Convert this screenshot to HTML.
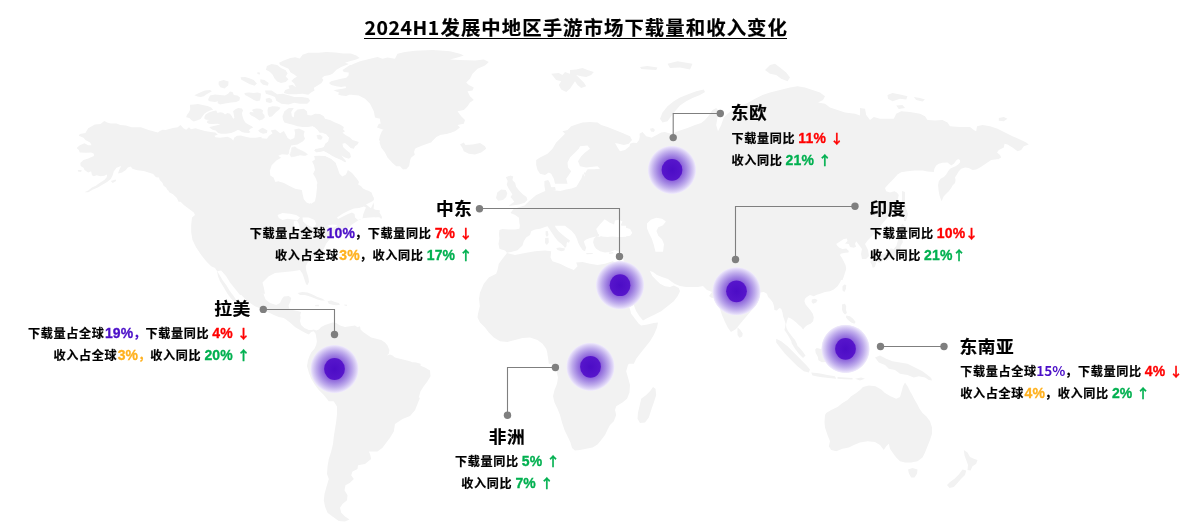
<!DOCTYPE html>
<html lang="zh-CN"><head><meta charset="utf-8"><title>2024H1发展中地区手游市场下载量和收入变化</title>
<style>
*{margin:0;padding:0;box-sizing:border-box}
html,body{width:1200px;height:531px;background:#fff;overflow:hidden}
body{position:relative;font-family:"Liberation Sans","Noto Sans CJK SC",sans-serif;font-weight:700;color:#000}
svg.bg{position:absolute;left:0;top:0;width:1200px;height:531px}
.t{position:absolute;white-space:nowrap;line-height:1}
.title{font-family:"Noto Sans CJK SC",sans-serif;font-size:19.4px;left:364.4px;top:14.6px;line-height:24px;height:24.3px;border-bottom:1.3px solid #000}
.title span{display:inline-block;transform:scaleY(.97);transform-origin:50% 80%}
.title .tl{letter-spacing:.6px;margin-right:.6px}
.title{-webkit-text-stroke:.2px #000}
.title .tc{letter-spacing:1.05px;margin-right:-1.05px}
.rn{font-size:17.7px;line-height:20px;letter-spacing:.5px;-webkit-text-stroke:.2px #000}
.rn.r{margin-right:-.5px}
.tx{font-size:12.1px;line-height:16px}
.tx{word-spacing:-.7px}
.tx .z{letter-spacing:.65px;margin-right:-.65px;-webkit-text-stroke:.22px currentColor}
.z{display:inline-block;transform:scaleY(1);line-height:0}
.rn .z{transform:scaleY(.96)}
.r{text-align:right}
.c{text-align:center}
.red{color:#ff0000}.grn{color:#00b050}.pur{color:#4b0fc8}.org{color:#ffb11f}
.n{font-size:14px;letter-spacing:.15px;display:inline-block;transform:scaleY(1.08);line-height:0;margin-left:1.1px;-webkit-text-stroke:.3px currentColor}
.ar{font-family:"Noto Sans CJK SC",sans-serif;font-size:13.6px;letter-spacing:0;position:relative;top:.3px;margin-left:.6px;line-height:0;display:inline-block;transform:scaleY(.89)}
.ar.dn{top:-.5px}
.k{font-family:"Noto Sans CJK SC",sans-serif;display:inline-block;font-size:13.6px;line-height:0}
</style></head>
<body>
<svg class="bg" width="1200" height="531" viewBox="0 0 1200 531">
<defs>
<radialGradient id="glow" cx="50%" cy="50%" r="50%">
<stop offset="0" stop-color="#5a1ecb"/>
<stop offset="0.42" stop-color="#8a60da"/>
<stop offset="0.6" stop-color="#a589e3"/>
<stop offset="0.75" stop-color="#bfacec"/>
<stop offset="0.9" stop-color="#ddd3f6"/>
<stop offset="0.97" stop-color="#eee9fb"/>
<stop offset="1" stop-color="#f4f0fc" stop-opacity="0"/>
</radialGradient>
<radialGradient id="core" cx="50%" cy="50%" r="50%">
<stop offset="0" stop-color="#4c0cc6"/>
<stop offset="1" stop-color="#5716cb"/>
</radialGradient>
</defs>
<g id="map" fill="#f2f2f2"><path d="M79.8 133.9L85.4 133L88.2 128.2L94.8 124.5L100.5 124.1L104.3 121.1L107.1 122.6L110.8 123.5L116.5 123.5L120.3 125L125.9 125.4L131.6 127.3L141 127.3L148.5 130.1L157.9 132.4L159.8 131.1L162.6 129.8L165.5 130.1L173 127.9L177.7 127.3L180.5 125L183.4 128.2L186.2 129.8L189 127.3L190.9 129.2L195.6 128.2L200.3 129.8L205 131.1L210.7 132L215.4 132.4L217.8 134.8L214.4 135.8L215.4 137.3L220.1 137.7L227.6 136.7L231.4 138.6L233.3 140.5L234.2 137.7L237 135.8L240.8 135.4L245.5 136.7L250.2 137.7L255.9 137.7L261.5 136.7L261.5 201.7L178.6 201.7L176.8 197.9L173 194.2L169.2 192.3L167.3 188.5L163.6 185.7L162.6 182.9L159.8 180L158.9 177.6L156 177.2L153.2 174L148.5 172.5L143.8 171L137.2 170.2L132.5 168.7L130.6 166.5L127.8 167.4L125.9 170.1L122.1 172.5L118 173.4L119.3 169.7L121.2 165.9L116.5 167.8L113.7 171.6L112.7 175.3L110.8 179.1L107.1 181.9L102.4 184.7L97.7 187.6L93 189.5L88.2 192.3L84.5 192.3L88.2 190.4L92 187.6L95.8 185.7L99.5 182.9L104.3 180L106.7 177.2L107.1 174.4L104.3 175.7L100.5 176.3L96.7 175.3L93.9 176.3L92 175.3L91.1 171.2L88.2 172.5L84.5 170.1L83.5 167.8L80.7 165.9L80.3 163.1L83.5 159.9L88.2 158.4L93.9 156.1L93.9 153.7L91.1 152.4L86.4 152.7L79.8 152.4L78.8 149.9L76.6 148L79.8 145.2L84.5 143.3L88.2 145.2L91.6 145.2L90.1 142.4L85.4 139.9L83.5 137.7L78.8 135.8ZM77.9 170.1L81.7 170.1L81.1 171.9L77.9 171.6ZM110.8 181L115.6 179.5L116.1 181L112.7 182.9ZM218.8 81.6L223.5 80.1L228.6 81.6L228.2 85.4L224.5 88.6L220.3 87.3L218.5 84.3ZM240.5 77.3L245.2 76.9L249.3 78.2L253.7 80.1L256.9 83.5L254.6 85.8L249.3 83.9L244.8 81.6L241.4 79.8ZM260.3 79.2L264.4 80.1L268.7 83L267.8 85.8L263.1 84.8L260.3 82ZM257.4 72.2L259.9 72.6L259.9 74.5L257.4 74.1ZM265 90.5L271.6 90.5L277.2 94.3L282.9 93.7L288.5 95.2L294.2 97.1L301.7 97.1L308.3 98L310.2 100.8L307.3 103.7L299.8 103.7L294.2 102.7L288.5 104.6L281.4 103.7L276.3 100.8L275 97.1L270.6 95.2L265.9 93.7ZM266.9 66L271.6 64.1L277.2 65.1L281 67.9L285.7 70.3L287.6 73.5L285.7 76.4L288.5 79.2L285.7 82L281 83L277.2 81.6L274.4 78.2L272.5 74.5L269.7 71.7L265.9 69.8ZM279.1 62.8L283.8 60.4L290.4 57.9L295.1 57.2L299.8 58.5L302.6 54.7L308.3 52.8L318.6 52.8L326.2 51.9L335.6 52.6L343.1 53.4L350.7 53.4L356.3 55.6L359.7 57.9L355.4 59.8L349.7 61.3L345 62.8L348.8 64.1L341.2 66.9L336.5 69.8L332.8 73.5L329.9 75L324.3 76L322 77.9L323.4 80.1L321.5 83L317.7 85.4L313.9 87.7L314.5 90.5L311.1 92.4L308.3 94.8L302.6 93.7L296 94.3L288.5 94.3L283.8 92.9L285.1 89.9L289.5 88.6L288.5 85.8L292.3 84.8L296 87.3L294.2 83.5L291.3 81.1L294.2 78.2L297 76.7L294.2 74.5L290.4 72.2L288.5 68.8L284.7 66.9L280 65.1ZM238.7 137.9L259.4 137.9L266.9 138.8L268.8 136L272.6 133.2L270.7 130.4L275.4 129.4L280.1 133.2L283.9 130.9L287.7 137.9L290.5 139.8L294.3 137.9L295.2 133.2L294.3 129.4L299 128.5L304.6 131.3L303.7 135.1L305.6 138.8L308.4 141.7L311.2 154.3L314 155.8L319.7 155.4L325.3 155.8L331 158.6L335.7 162.4L337.6 168L339.5 173.7L342.3 176.5L346 174.6L347.9 169.9L352.1 172.9L354.5 175.9L357 178.9L359 182L358.1 184.4L360.9 185.9L363 188.5L366 190.1L369 191L371.5 192.5L372.4 195L373.9 198L373.9 200L372 201.5L369 203.1L366 204.6L363 206.4L357.9 206.8L352.1 206.8L347 207L344.5 208.5L341.9 211L339.1 213.4L338.5 221.7L238.7 221.7ZM451.5 119.1L451.5 132.8L442.1 134.1L436.4 136.9L430.8 142.6L422.3 145.4L415.7 148.2L413.8 151.1L414.8 154.8L411 157.7L410.1 160.5L409.1 166.1L406.3 169.3L402.5 168L399.7 165.2L396 166.1L392.2 162.4L388.4 157.7L385.6 153L383.7 148.2L380.9 143.5L379 139.8L379.9 136L381.8 131.3L385.6 127.5L380.9 125.6L379.9 119.1ZM374 205.5L373.5 208.5L375 209.8L378 210L380 210.5L379.5 212.5L381 215L382 217L381.5 219L380 218L378 216.5L376 217.5L373 217L370 216.2L367 216.8L365 216L366.5 213L369 211L371 208L372.5 205L373.5 202.5ZM352 208.5L355 209.5L357 210.8L355.5 210.5L353 209.5ZM348.8 66.2L353.8 63.8L360 61.2L370 58.8L377.5 57L382.5 58.8L387.5 57.5L395 58.8L397.5 53.8L405 52L415 50.8L432.5 50L450 51.2L460 53.8L463.8 55.5L457.5 57.5L450 59.5L460 60L475 60.5L483.8 59.5L488.8 62L485 65.5L477.5 68.8L472.5 73.8L470 78.8L466.2 82.5L468.8 85L473.8 87.5L472.5 90.5L467.5 91.2L470 96.2L473.8 100L470 102.5L467.5 106.2L463.8 110L457.5 111.2L461.2 116.2L465 120L463.8 123.8L457.5 125L460 127.5L455 131.2L447.5 133.8L440 135L435 137.5L431.2 142.5L422.5 144.5L415.5 148L413.8 152.5L410 157.5L408.8 163.8L407 168.8L403 169.5L400 166.2L396.2 166.2L392 162.5L387.5 157.5L385 152.5L381.2 147.5L379.5 142.5L381.2 136.2L386.2 132.5L387.5 128L382.5 129.5L377 127.5L378.8 123.8L385 123.8L380 118.8L375 117.5L373.8 111.2L370 103.8L365 98.8L358.8 95.5L348.8 94.5ZM460 144.5L463.8 142.5L465.5 145L472.5 144.5L480 143L485 146.2L486.2 148.8L481.2 152.5L475 154.5L468.8 153.8L463.8 151.2L462.5 148ZM551.2 73.8L558.8 73L562.5 75L565 72L570 73.8L570 70L576.2 69.5L582.5 68L587.5 70L593.8 72L591.2 75L586.2 77L581.2 76.2L576.2 75L580 78.8L583.8 82.5L586.2 86.2L581.2 88L577.5 85L575 81.2L572.5 85L570 88.8L566.2 92L561.2 89.5L558.8 85L561.2 81.2L556.2 80L553.8 77ZM536.2 160L540 157.5L547.5 153.8L552.5 148.8L556.2 142.5L561.2 137.5L565 133.8L562.5 131.2L567.5 130L571.2 126.2L576.2 124.5L582.5 122.5L590 122L597.5 122.5L601.2 125L607.5 127L615 130L622.5 133L630 136.2L632 140L628.8 143.8L623.8 145L618.8 143.8L615 143L617.5 147.5L620 151.2L625 150L631.2 145L636.2 143.8L640 138.8L639.5 133.8L642.5 132L646.2 136.2L651.2 137.5L651.2 183.8L582.5 183.8L581.2 180L585 176.2L583.8 172.5L590 171.2L600 168.8L597.5 166.2L586.2 167.5L580 166.2L578 161.2L581.2 156.2L585 152.5L590 148.8L587.5 145.5L580 146.2L578.8 148.8L573.8 153.8L570 157.5L567.5 162.5L568 167.5L571.2 171.2L568.8 175L566.2 178.8L567.5 183.8L555 183.8L553.8 178.8L551.2 173.8L548.8 172.5L545 175L540 173.8L537.5 170L536.2 165ZM350 178.8L355 195L365 203.8L370 207.5L373.8 211.2L378.8 213.8L381.2 217.5L376.2 217L370 217.5L363.8 218L358.8 220L355 222.5L351.2 225L348.8 228L343.8 230L338.8 233L333.8 235L330 238.8L326.2 243.8L323.8 248.8L321.2 253.8L317.5 256.2L312.5 258.8L307.5 262.5L305.8 266.2L306.2 270.5L307.5 274.5L308.5 278L309 282L307.5 285L306.2 284.5L305 281.2L303.8 277.5L302.5 273.8L300 270L292.5 271.2L285 272L275 273L268.8 276.2L265 280L262.5 282.5L263.8 287.5L265 293.8L240 295L235 288.8L230 282.5L226.2 276.2L221.2 270.5L217 271.2L218 276.2L220 281.2L223.8 287.5L227.5 293.8L231.2 298.8L235 302.5L236.2 300L233.8 296.2L230 291.2L226.2 285L222.5 280L218.8 273.8L215 268L211.2 266.2L206.2 261.2L201.2 255L196.2 247.5L192.5 240L191.2 232.5L191.2 225L192 217.5L195 215L193.8 212.5L188.8 208.8L183.8 205L178.8 200L173.8 195L167.5 190L163.8 183.8L160 178.8ZM239.4 269.4L265 269.4L265 273.8L263.1 277.5L262.5 282.5L262.8 288.8L263.8 295L265.6 299.4L270 303.1L276.2 305L280 303.1L281.9 299L283.8 296.5L288.8 296L291.2 298.1L290.2 301.9L288.5 305.6L289.4 308.8L292.5 310L297.5 311L301.2 311.9L300.2 315L299.8 318.8L283.8 318.1L278.8 316.9L273.8 315L268.8 312.5L263.8 309.8L255 306.2L247.5 301.2L239.4 293.1ZM297.5 293.1L302.5 291.9L307.5 292.5L312.5 294.4L317.5 296.9L322.5 298.8L325 300.6L321.2 300.6L317.5 299.4L313.8 298.1L310 296.5L305 295L300 295ZM327.5 301.2L331.2 300.6L335 301.9L338.8 303.1L340 304.8L336.2 305.2L332.5 304.8L328.8 303.8ZM315 305L318.8 304.8L319 306.2L315.2 306.2ZM344.4 304.5L347 304.8L346.9 305.9L344.4 305.6ZM270 307.5L282.5 309.4L288.8 311.2L295 312.5L300 313.8L300.6 317.5L300 321.2L301.2 325L304.4 328.1L308.8 330L311.9 330L313.8 329.4L316.2 330.6L318.8 329.4L321.2 326.9L325 325L328.8 323.8L332.5 322.5L336.2 323.1L340 325.6L345 326.9L350 326.2L355 325.6L357.5 327.2L360 326.2L360.6 329.4L363.1 331.9L367.5 335L371.2 337.5L376.2 338.8L381.2 340L385 342.5L387.5 345.6L389.4 350L388.8 353.8L386.9 355.6L390 354.4L392.5 355.6L395 357.5L400 358.8L405 360L411.2 361.9L416.2 362.5L420.6 363.8L420.6 366.9L308.8 366.9L308.1 360L309.4 356.2L311.2 352.5L314.4 348.8L316.2 345L316.9 341.2L316.2 336.9L315.6 333.8L313.8 331.2L311.2 331.9L308.8 334.4L305 332.8L300 330L295 326.9L290 322.5L285 318.8L280 316.2L275 313.8L270 311.2ZM308 360L405 360L410 361.2L417.5 364.5L425 367.5L430 370.5L430.5 376.2L427.5 381.2L423.8 386.2L420.5 391.2L418.8 397.5L418 401.2L328.8 401.2L323.8 395L318.8 390L315 385L311.2 378.8L308.8 372.5L307 366.2ZM420 397.8L417.5 404L415 410.2L410 416L402.5 419L395 424L393.8 431.5L390 437.8L386.2 442.8L382.5 447.8L377.5 451.5L368.8 451.5L370 454L371.2 459L365 464L358 465.2L357.5 469L352.5 471.5L351.2 475.2L353.8 479L350 482.8L345.5 485.2L344.5 490.2L347.5 495.2L347 500.2L342.5 504L340 507.8L341.2 512.8L345 516.5L349.5 519.5L345 521.5L338.8 521L332.5 516.5L327.5 512.8L325 506.5L323.8 500.2L324.5 494L326.2 487.8L328.8 479L327 474L327.5 466.5L328.8 459L331.2 451.5L333 444L333.8 436.5L335 429L336.2 421.5L337 414L337 406.5L333.8 401.5L328.8 397.8ZM505.8 177.3L510.5 175.4L513.3 176.4L512.4 180.1L515.2 183L516.1 186.7L519 190.5L522.7 194.3L526.5 197.1L527.4 199.9L524.6 202.7L519 204.6L512.4 205.6L508.6 206.1L511.4 203.7L514.3 201.8L512.4 199.3L510.5 197.1L512.4 194.3L510.5 191.4L508.6 188.6L506.7 184.8L507.7 181.1ZM497.3 192.4L501.1 189.5L505.8 189.9L507.3 193.3L506.2 197.1L503 199.9L498.2 200.8L496 198ZM585.8 178.2L587.7 175.4L585.8 171.7L587.7 169.2L594.3 169.2L599.9 168.8L601.8 168.8L671.5 168.8L671.5 225.7L519.9 225.7L519.3 222.5L519 217.8L515.2 215L510.5 213.1L513.3 209.3L518 207.4L524.6 205.6L527.4 202.7L530.3 199.9L535.9 195.2L540.6 192.9L545.3 191.1L544.4 185.8L544.4 181.1L548.2 180.1L550 183L551 186.7L552.9 188.6L555.7 190.5L560.4 191.1L566 189.5L571.7 188.6L576.4 186.7L579.2 182L581.5 178.2L583 173.5ZM551.4 187.3L555.1 186.9L555.7 189.9L552.5 190.3ZM552.5 221.2L550 223.8L547.5 226.2L545 226.9L540 228.8L535 229.4L531.2 231.2L530 235L526.2 237.5L523.8 241.2L522.5 245.6L517.5 250.2L511.2 251.9L506.9 252.8L505 250.6L502.5 249.8L499.4 248.8L498.5 243.8L499.4 238.8L499 233.8L499.4 230L502.5 229L508.8 229.4L515 229.4L519.4 228.8L520 225L520 221.2ZM550 223.8L552.5 221.2L554 223.1L555.6 227.5L558.5 231.2L562.5 234.8L566.2 237.8L570 240.6L569 242.8L567.2 242L566.5 244L566.5 246.2L565 248.1L563.8 246.2L561.2 243.8L558.1 241.2L555 237.5L552.5 233.8L550 230L547.5 226.2ZM556.2 248.1L560 247.5L565 248.5L564.4 250.6L561.2 251.2L557.5 250ZM602.5 221.2L598.8 236.5L596.2 236.5L593.8 236.9L590 238.1L586.2 239.4L583.8 241.2L585 245L586.2 247.5L585 251.2L582.5 250L580 246.2L578.1 242.5L577.2 239.4L575 234.8L571.2 230.6L566.5 226.9L562.5 223.5L558.5 221.2ZM596.2 236.5L598.8 236.9L602.5 235.6L608.8 236.2L615 236.5L621.2 236.9L627.5 236.5L632.5 235L640.6 233.8L640.6 255L618.8 251.9L615 250L610 251.9L605 252.5L600 251.2L596.2 248.8L594.4 246.2L593.1 242.5L593.8 238.8ZM545.6 231.2L547.8 231L548.5 235L546.9 236.9L545.6 235ZM545.2 238.1L548.5 237.8L548.8 242.5L546.9 245L545 243.1ZM586.2 253.1L592.5 252.9L592.8 254L586.5 254.2ZM608.8 252.5L613.1 251.9L613.5 253.5L609.4 254ZM515 255L525 253L535 251.2L545 250.5L551.2 251.2L550.5 257.5L552.5 261.2L560 263.8L567.5 267.5L573.8 270L577.5 266.2L576.2 262.5L582.5 262L590 263.8L597.5 265L605 263.8L612.5 261.2L620 263.8L622 268.8L623.8 280L626.2 292.5L628.8 305L631.2 313.8L635 318.8L638.8 323.8L641.2 325.5L647.5 324.5L653.8 323L658 322.5L657 327.5L653.8 335L650 341.2L645 347.5L640 353.8L636.2 358.8L633.8 363.8L548.8 363.8L547.5 353.8L546.2 348.8L542.5 343.8L537.5 340L530 337.5L522.5 338L515 340L507.5 342L500 341.2L493.8 337.5L488.8 332.5L485 327.5L480 322.5L477.5 317.5L478 313.8L479.8 306.2L479 298.8L480 292.5L483.8 283.8L488.8 277.5L496.2 273.8L497.5 270L498.8 263.8L502.5 258.8L507 253ZM623.8 262.5L622.5 252.5L650 252.5L650 271.2L652.5 276.2L656.2 280L660 283.8L665 286.2L670 287L673.8 285.5L678.8 288L680 291.2L677.5 296.2L673.8 301.2L667.5 306.2L661.2 311.2L653.8 315L647.5 318L643 320.5L639.5 316.2L636.2 311.2L633.8 305L631.2 292.5L628 280L625 267.5ZM650 338.8L645 345L640 350L635 355L631.2 360L628 365L626.2 371.2L628 377.5L630 385L629.5 392.5L627 398.8L622.5 402.5L616.2 406.2L615 410L616.2 415L613.8 421.2L610 425L608 428.8L605 435L601.2 440L597.5 444.5L592.5 447.5L586.2 448.8L580 450L575 450.5L572 448L570.5 442.5L567.5 436.2L564.5 430L562 422.5L560 415L557.5 408.8L554.5 402.5L553 396.2L554.5 390L557 383.8L558 377.5L556.2 370L552.5 365L548.8 361.2L547.5 355L546.2 338.8ZM641.2 398.8L646.2 395L650 391.2L653 387L655.5 388.8L656.2 395L653.8 402.5L651.2 410L648.8 417.5L645 422.5L640 423L637.5 418.8L638 412.5L639.5 406.2ZM630 143.8L633 142.8L637 143L638.8 141.2L639.5 138L640 134.5L642 132.5L643.8 133.8L643 137L643.8 139.5L646.2 140L650 138.5L653.8 136.5L657.5 134.5L661.2 132.5L665 132L668 133L671.2 133.8L680 130.5L687.5 128L695 125L701.2 123L705 120L708.8 115.5L712.5 110L716.2 108L718.8 111.2L717.5 117.5L716.2 125L718 131.2L721.2 125L723.8 117.5L727.5 113.8L732.5 110L740 106.2L747.5 103L755 98.8L762.5 95L770 92.5L780 90L790 87.5L797.5 86.2L805 87.5L812.5 90L820 92.5L825 96.2L823 100L818 102.5L825 103.8L830 107.5L837.5 110L845 112.5L855 113.8L860 115.5L860 108L865 108.8L866.2 115L870 120L873.8 117L880 118.8L893.8 118.8L896.2 113.8L901.2 111.2L910 112L920 113.8L925 116.2L927.5 120L935 120.5L942.5 120L947.5 122.5L950 126.2L960 127L970 127L973.8 130L976.2 131.2L977 126.2L982.5 125L990 126.2L997.5 128.8L1005 132.5L1012.5 136.2L1020 139.5L1026.2 142.5L1028.8 144.5L1023.8 146.2L1021.2 150L1017.5 151.2L1012.5 147.5L1007.5 144.5L1004.5 143.8L1003.8 147.5L998.8 150L997 152.5L1000 155L1001.2 157.5L997.5 159.5L1000 158.8L995 159.4L991.2 160L987.5 162.5L983.8 165L980 167.5L976.2 169.4L972.5 170L968.8 168.1L965 167.5L961.2 168.8L958.8 171.2L956.9 174.4L955 177.5L955.6 180L955 183.1L952.5 185.6L951.2 188.1L948.8 191.2L946.2 193.8L943.8 196.2L941.5 201.2L940.6 198.8L939.4 195L938.5 190L938.1 185L938.8 181.2L940.6 178.8L943.8 176.9L946.2 174.4L948.1 171.2L950 168.8L952.5 167.5L955.6 166.2L958.1 164.4L960.2 162.2L960 160L958.1 159L956.2 160.6L953.8 163.8L951.2 165.6L950 164.4L947.5 162.5L942.5 162.8L938.8 163.8L936.2 165.6L934.4 168.8L933.8 171.9L927.5 171.5L922.5 170.6L915 170.6L907.5 171.2L901.2 172.2L897.5 174.4L893.8 178.8L888.8 183.8L885 188.1L886.2 191.2L890 192.5L894.4 191.2L896.9 192.5L898.8 195L897.5 200L895 206L890 215L882 224L877 231L872 236L868 240L865 244L868 250L869 256L866 259L862 259L861 254L862 249L859 245L856 241L856.2 240.9L855 244L856.2 246.5L853.8 247.8L850 247.1L848.8 244L845 243.4L847.5 240.9L846.9 238.4L843.8 239L840 241.5L836.2 244L837.5 245.9L839.4 247.8L842.5 249L846.2 248.4L848.8 250.9L848.5 252.5L845 252.8L840.6 253.8L840 255.2L841.9 257.8L843.8 261.5L845.6 265.2L846.2 269L845 272.8L843.8 276.5L842.5 280L841.2 280L840 282.5L837.5 286.2L833.8 289.4L830 291.2L825 291.9L820 293.8L816.2 295L813.8 296.2L810 295L806.9 296.9L805 298.8L804.4 301.2L805.6 304.4L808.1 307.5L810.6 310.6L812.8 313.8L813.8 317.5L813.1 321.2L810.6 323.8L807.5 325L805 326.9L803.1 329.4L801.2 326.9L798.8 325L796.2 322.5L793.1 320L790 318.1L788.1 317.5L786.9 321.2L786 325L786.5 328.1L788.1 331.2L790 333.8L792.5 336.9L795 340L796.9 343.8L797.5 346L798.8 347L802.5 351.2L805.5 355.5L803 358L798.8 353.8L795 348.8L791.2 342.5L791.9 342.5L790 338.8L788.1 335.6L786.2 332.5L784.4 330L785 327.5L785.6 323.8L784.4 320L783.1 316.2L782.5 312.5L781.2 308.8L779.4 308.1L776.9 310.6L774.4 310L774 306.2L772.8 302.5L770.6 299.4L768.1 296.9L766.9 293.8L763.8 291.9L760 292.5L757 302L751 311L745 318L740 324L736 329L731 332L728 328L725 322L722 315L719 306L718 300L716 297L712 298L709 296L712 292L707 290L703 286L698 287L692 287L686 287L680 286L675 284L672 282L668 279L662 277L657 275L653 272L650 271L640 268L630 262L626 240L626 200L626 170ZM650 128.8L653 128L655 130L653.8 132L651 131.5ZM660 118.8L662.5 112.5L667.5 106.2L673.8 101.2L680 97.5L687.5 94.5L696.2 91.2L703.8 89.5L705 92L700 95L692.5 98L686.2 101.2L680 105.5L675 111.2L671.2 116.2L667.5 121.2L662.5 122.5ZM765 70L770 65L775 63.8L780 67.5L786.2 72.5L790 77.5L787.5 81.2L781.2 78.8L776.2 75L770 73.8ZM640 67L647.5 66L657.5 67.5L656.2 70L647.5 69.5L641.2 69ZM667.5 63.8L677.5 61.2L692.5 63.8L690 69.5L680 67.5L670 68ZM887.5 95L892.5 93L900 94.5L907.5 96.2L906.2 99.5L900 98.8L892.5 101.2L888 98.8ZM913.8 97L920 98L925 99.5L922.5 101.5L916.2 100ZM896.2 105.5L902.5 105L905 108L898.8 109ZM998.8 118L1003.8 117L1007.5 118.8L1003.8 121.2L998.8 120.8ZM902 191L905 192L905 200L906 208L908 214L906 221L904 221L903 212L902 203ZM873.5 259.2L877.8 255L884.5 254.1L889 250.4L890.6 248.6L893.8 248.9L896.5 245.5L897.8 240.8L898.6 237L901.8 236.4L902.9 242.3L900.5 246.1L900.2 250.4L899.9 254.1L897.3 256.2L894.6 257.1L889.8 257.4L889.3 258.3L886.6 260.7L884.7 258.3L880.5 258L877 259.5ZM897.8 236L898.6 230.3L902.3 223.4L905.8 227L911.9 227L912.7 230.3L906.6 234.4L900.5 232.8L899.1 234.4ZM870.6 260.7L873.5 259.5L875.7 260.4L876.2 262.8L874.9 266.9L872.7 267.8L871.7 264.5L870.4 262.2ZM877.8 259.2L882.6 258.3L883.4 259.8L882.3 261.3L879.1 262.8L877.5 261.3ZM842.5 286.2L844.4 284.4L846.2 285L846 288.8L844.4 291.9L842.5 290.6ZM811.9 299.4L815 298.8L817.5 300L816.2 302.5L813.1 303.8L811.5 301.9ZM841.9 304.4L845 303.8L846.2 306.2L846 310L846.9 313.1L845 314.4L843.1 312.5L841.9 309.4L842.2 306.9ZM846.2 315.6L850 316.2L853.1 318.8L855.6 321.9L854.4 323.8L851.2 322.5L848.1 320L846 317.5ZM853 330L858 328L862 331L862 337L857 339L853 336ZM737.6 327.5L740 329.4L742.7 333.4L742.2 336.6L739.5 337.7L737.6 335.2L737.4 331.5ZM815.2 349.4L816.8 348.1L821 349.1L825.8 344.9L831.2 340.1L836 335L838.4 336.9L841.8 339.5L838.6 342.7L838.6 348.1L841.6 350.7L838.1 354.7L835.2 358.7L833.8 363.8L830.1 364.3L825.8 361.9L821.8 362.2L818.4 360.3L817.9 356.9L815.7 352.9ZM844 351.3L847.2 349.9L852.5 351L857.8 349.1L856.5 352.3L849.8 352.3L845.8 353.4L848.5 356.1L853.3 355.8L850.6 358.2L849.3 360.9L852 364.1L850.9 367.5L848 365.7L846.9 361.4L845.6 366.2L845.6 368.3L843.2 368.1L843.2 362.7L841.3 360.6L842.6 356.6ZM776.2 338.8L781.2 341.2L787.5 346.2L793.8 352.5L800 358.8L806.2 365L810 369.5L808.8 372.5L803.8 371.2L797.5 366.2L791.2 360L785 353.8L780 347.5L776.2 342.5ZM811.2 372.5L818.8 373.2L827.5 375L835 376.2L836.2 378.8L828.8 378L820 377L812.5 375.5ZM837.5 377L845 377.5L852.5 378L852.5 379.5L845 379.2L837.5 378.8ZM855 378.8L861.2 377.5L865 378.8L860 380.5ZM875 357.5L880 355.5L886.2 358.8L892.5 361.2L900 362.5L907.5 363.8L915 367.5L922.5 371.2L927.5 375L931.2 378L932 380.5L928.8 380L925 377.5L918.8 376.2L913.8 377.5L907.5 375L900 373.8L895 370L888.8 368.8L885 365L878.8 362.5ZM826.2 413L831.2 410L837.5 407L842.5 403L847.5 400L851.2 396.2L856.2 393L860 390L863 387L868.8 385.5L875.5 386.2L881.2 389.5L885 393L890.5 396.2L896.2 398.8L900 397L901.5 392L903 386.2L905 382.5L908 387L910 391.2L912 394.5L914.5 399.5L917 403.8L919.5 408.8L922.5 413L926.2 416.2L930 421.2L932 427.5L932 433.8L930 440L927.5 446.2L925 452.5L922.5 457.5L917.5 461.2L911.2 462.5L905 462.5L900 461.2L896.2 457.5L892.5 452.5L890 448.8L888.8 443.8L886.2 446.2L883.8 450L880 445L875 442L867.5 441.2L860 442.5L853.8 445L848.8 447.5L842.5 448.8L836.2 451.2L831.2 450L828.8 446.2L830 441.2L827.5 435L825 427.5L824.5 422.5L825 415ZM908 469.5L912.5 468L917.5 469.5L917 473.8L914.5 477.5L911.2 477.5L909 473.8ZM963.8 450L967.5 452.5L970 457L973.8 458.8L977.5 460L976.2 463.8L972.5 466.2L970.5 470.5L967.5 470L968 465L966.2 460L964.5 455.5ZM962.5 469.5L966.2 470.5L965 475L961.2 478.8L957.5 483L953.8 487L949.5 488L947 485L950 482L954.5 478.8L958.8 474.5ZM362.5 65L362.5 87.5L360 95.6L355 94.4L350 94.4L346.2 96L341.2 95.6L338.1 94.4L339 92.5L336.2 91.5L333.5 90.2L337.5 89.4L342.5 88.8L346 88.1L345.6 86.2L341.2 86.9L336.2 86.2L331.2 85L329 83.1L331.2 81.2L336.2 80L341.2 78.8L346.2 77.8L348.5 75.6L348.8 72.5L343.8 71.9L342.5 70L346.2 67.5L350 65ZM282.5 116.2L284.4 111.2L288.8 108.1L293.8 108.1L291.2 111.9L291.9 116.2L293.8 117.5L294.4 112.5L297.5 109.4L303.8 108.8L306.9 111.2L307.5 115L311.2 115.6L315 113.8L320 114L323.8 116.2L325 118.8L330 120L335 122.5L340 124.4L343.8 126.9L343.1 129.4L345 131.2L342.5 132.8L346.2 135.6L350 137.5L352.5 140L358.8 141.9L357.5 144.4L355 146.2L353.8 148.8L350.6 148.1L348.1 145.6L345 143.1L342.5 143.8L343.1 146.9L346.2 150L350 153.1L351 156.9L348.8 158.8L345 157.5L341.2 155.6L346.2 161.2L345 162.5L340 160L336.2 158.1L332.5 157.5L330.6 155L327.5 153.1L323.8 151.2L320 152.5L316.2 152.5L314 150.6L315.6 148.8L320 148.1L323.8 146.9L325 143.8L328.1 141.2L328.8 137.5L326.2 134.4L322.5 132.8L319.4 132.8L317.5 130L315 127.5L312.5 126.2L310 128.1L308.1 129.4L307.5 126.9L302.5 126.9L297.5 126.2L293.8 125L288.8 123.8L284.4 122.5L283.1 120ZM190 104.8L193.8 104.4L198.1 104L202.5 105L207.5 106L211.2 107.5L213.1 109.8L210 110.6L206.9 111.9L204.4 113.8L202.5 116.2L200.6 119L197.5 120.2L193.8 121.5L191.2 120L189.4 118.1L186.2 117.2L186.9 115L188.8 112.5L190.2 109.4ZM204.4 116.9L205.6 114.4L208.8 112.5L212.5 111.2L216.2 110.6L217.5 113.1L220 112.2L223.1 112.8L225 114.4L227.5 113.1L230 113.8L231.9 116.2L233.1 118.8L234.4 118.1L233.8 114.4L233.1 111.2L235 109.4L238.1 108.1L241.9 108.5L243.1 110.6L241.9 113.1L242.5 116.2L243.8 120L245.6 122.8L248.8 124.8L251.9 126.2L253.1 127.5L250 129L248.8 130.6L250.6 131.9L248.8 133.1L245 132.8L241.9 131.9L239.4 130.2L237.5 130L235 131.5L231.2 133.1L226.2 133.8L221.2 133.8L218.1 133.1L215.6 130.6L212.5 129.8L210 128.1L209.4 126.9L213.8 126L218.1 125L220.6 124.4L217.5 123.8L212.5 124L208.8 123.8L206.9 122.5L207.5 120.6L210 120L206.2 119.8L204.4 118.8ZM208.1 99.4L210 95.6L215 94.4L220 95L225 95.6L228.1 93.8L230 91.5L232.5 91.9L233.8 95L237.5 95.6L240 97.5L239.4 100.6L236.2 101.9L231.2 102.5L225 103.5L220 104.4L217.5 103.1L218.1 101.2L215 101.9L211.2 101.5L208.8 101ZM194.4 95.2L197.5 93.8L201.2 91.9L205 90.6L210 90L211.9 91.2L208.8 93.1L206.2 94.4L203.8 96.2L200.6 96.9L197.5 96.5ZM244.4 93.1L248.8 92.5L253.8 93.1L257.5 92.5L261 93.5L260.6 97.5L260 100.6L256.9 101.2L253.8 100L250.6 98.1L247.5 96.2L245 95ZM265.6 98.8L269.4 97.8L271.9 99.4L272.5 101.9L270 103.1L266.2 101.9ZM252.5 109.4L256.2 108.5L260.6 108.8L263.1 110.6L262.5 113.1L264.4 115L264.8 117.5L262.5 119.4L259.4 120.6L256.9 118.8L254.4 116.9L251.2 115.6L249.4 113.8L250 111.9L253.8 112.2L252.2 110.6ZM268.1 107.5L272.5 106.2L277.5 106.5L280.6 107.8L278.8 110L276.2 111.9L273.8 114.4L271.9 116.5L269.4 116.9L267.8 114.4L267.5 110.6ZM258.1 130.6L260.6 128.8L262.5 127.8L265 129L267.5 130.6L266.9 133.1L263.1 133.8L260 132.5Z" fill="#f2f2f2" fill-rule="nonzero"/><path d="M269.8 170.8L271.7 165.2L276.4 160.5L281.1 157.7L278.2 155.8L282 154.3L287.7 154.8L291.1 151.1L292.9 147.9L295.2 146L299.3 147.9L306.5 153.5L311.2 154.3L314 155.4L315 159.5L312.1 161.4L314 165.2L315 169.9L313.1 173.7L315.9 178.4L317.4 183.1L315.9 187.8L312.1 191.6L311.2 195.3L312.5 200L309.9 203.8L306.5 202.5L303.7 199.1L302.7 194.4L301.8 190.1L295.2 188.7L289.5 185.9L283.9 183.1L278.2 181.2L275.4 182.1L273.5 177.4L270.3 175.6ZM277.5 215L282.5 213L290 213.8L296.2 215L300 217.5L297.5 220L292.5 219.5L287.5 218.8L282.5 220L278.8 218ZM293.8 221.2L297 220.5L299.5 225L300 230L298 233L295 231.2L293.8 226.2ZM302.5 217.5L308.8 217.5L314.5 220L316.2 223.8L313.8 228L310 226.2L306.2 224.5L303 221.2ZM312.5 231.2L317.5 229.5L323.8 228L327.5 228.8L322.5 231.2L316.2 233ZM327.5 225.5L332.5 224.5L337.5 225L335 227L330 227.5ZM306.2 178.8L316.2 178.8L317 187.5L316.2 195L315 201.2L311.2 203.8L308 200L307 192.5ZM337 217.5L343 213.5L349 210.5L354 208.5L359 208L364 206.5L366 207.5L364.5 211L363 215L362.5 219L361 219L358 220L355 217.5L354.5 214L352 212.5L348 214L343 216.5L338 219ZM596.2 229.1L599.9 224.4L604.7 219.3L609.4 222.5L614.1 224.4L615 220.6L618.8 219.7L622.5 221.6L620.7 225.3L624.4 227.2L630.1 229.1L632.3 232.9L630.1 235.7L624.4 236.6L618.8 237L613.1 236.3L607.5 237L601.8 236.6L598.1 233.8ZM647 223.4L650.8 219.7L656.4 217.8L662.1 218.7L665.9 221.6L663 225.3L658.3 227.2L656.4 231L658.3 235.7L662.1 239.5L664 244.2L663 251.7L655.5 251.7L653.6 244.2L651.7 238.5L648.9 232.9L647 228.2ZM306.2 127.2L312.5 126.2L317.5 130L319.4 132.8L326.2 134.4L328.8 137.5L328.1 141.2L325 143.8L323.8 146.9L320 148.1L315.6 148.8L314 150.6L316.2 152.5L323.8 151.2L330.6 155L336.2 158.1L341.2 160L345 162.5L348.8 166L337.5 167.5L335.6 162.5L331 158.8L325.2 155.9L319.6 155.4L314 155.8L312.5 158.8L291.2 158.8L288.8 155L289.4 150L291.2 145.6L297.5 144.4L300 143.1L303.1 141.2L305 138.8L303.8 135.6L305.6 132.5L305 129.4Z" fill="#ffffff"/><path d="M291.9 147.5L295 146.9L297.5 148.8L301.2 150.6L305 152.5L307.5 154.4L305 155.6L300 155L295 156.2L291.2 156.9L290 154.4L291.2 151.2ZM316.9 135.6L320 135L322.2 136.9L321.2 139.4L318.1 139Z" fill="#f2f2f2" stroke="#f2f2f2" stroke-width="0.6" stroke-linejoin="round"/></g>
<g id="dots">
<circle cx="672" cy="169.9" r="24.5" fill="url(#glow)"/><ellipse cx="672" cy="169.9" rx="10.4" ry="10.9" fill="url(#core)"/><circle cx="620.05" cy="285.2" r="24.5" fill="url(#glow)"/><ellipse cx="620.05" cy="285.2" rx="10.4" ry="10.9" fill="url(#core)"/><circle cx="736.5" cy="291.3" r="24.5" fill="url(#glow)"/><ellipse cx="736.5" cy="291.3" rx="10.4" ry="10.9" fill="url(#core)"/><circle cx="334.5" cy="369" r="24.5" fill="url(#glow)"/><ellipse cx="334.5" cy="369" rx="10.4" ry="10.9" fill="url(#core)"/><circle cx="590.5" cy="366.8" r="24.5" fill="url(#glow)"/><ellipse cx="590.5" cy="366.8" rx="10.4" ry="10.9" fill="url(#core)"/><circle cx="845.5" cy="348.9" r="24.5" fill="url(#glow)"/><ellipse cx="845.5" cy="348.9" rx="10.4" ry="10.9" fill="url(#core)"/>
</g>
<g id="conn" fill="none" stroke="#7f7f7f" stroke-width="1.1">
<path d="M720.3 113.5H673.2V137.6"/>
<path d="M479.5 208.5H619.5V256.5"/>
<path d="M855 206.5H735.5V259.5"/>
<path d="M263.3 309.5H334.5V334.5"/>
<path d="M507.5 415.2V367.5H555"/>
<path d="M944 346.5H880"/>
</g>
<g id="cd" fill="#7f7f7f">
<circle cx="720.3" cy="113.5" r="3.7"/><circle cx="673.2" cy="137.6" r="3.7"/>
<circle cx="479.5" cy="208.7" r="3.7"/><circle cx="619.5" cy="256.5" r="3.7"/>
<circle cx="855" cy="206.3" r="3.7"/><circle cx="735.5" cy="259.5" r="3.7"/>
<circle cx="263.3" cy="309.4" r="3.7"/><circle cx="334.5" cy="334.5" r="3.7"/>
<circle cx="507.5" cy="415.2" r="3.7"/><circle cx="555.4" cy="367.5" r="3.7"/>
<circle cx="944" cy="346.5" r="3.7"/><circle cx="880.5" cy="346.5" r="3.7"/>
</g>
</svg>
<div class="t title"><span class="tl">2024H1</span><span class="tc">发展中地区手游市场下载量和收入变化</span></div>
<div class="t rn" style="left:730.8px;top:103.4px"><span class="z">东欧</span></div>
<div class="t tx" style="left:731.5px;top:131.2px"><span class="z">下载量同比</span> <span class="red n">11% <span class="ar dn">↓</span></span></div>
<div class="t tx" style="left:731.5px;top:153.2px"><span class="z">收入同比</span> <span class="grn n">21% <span class="ar">↑</span></span></div>
<div class="t rn r" style="right:728.2px;top:198.5px"><span class="z">中东</span></div>
<div class="t tx r" style="right:727.3px;top:225.9px"><span class="z">下载量占全球</span><span class="pur n">10%</span><span class="z">，下载量同比</span> <span class="red n">7% <span class="ar dn">↓</span></span></div>
<div class="t tx r" style="right:727.3px;top:247.9px"><span class="z">收入占全球</span><span class="org n">3%</span><span class="z">，收入同比</span> <span class="grn n">17% <span class="ar">↑</span></span></div>
<div class="t rn" style="left:869.6px;top:198.6px"><span class="z">印度</span></div>
<div class="t tx" style="left:870px;top:226.1px"><span class="z">下载量同比</span> <span class="red n">10%<span class="ar dn" style="margin-left:-.6px">↓</span></span></div>
<div class="t tx" style="left:870px;top:248.1px"><span class="z">收入同比</span> <span class="grn n">21%<span class="ar" style="margin-left:-.4px">↑</span></span></div>
<div class="t rn r" style="right:949.8px;top:299.2px"><span class="z">拉美</span></div>
<div class="t tx r" style="right:949.6px;top:325.7px"><span class="z">下载量占全球</span><span class="pur"><span class="n">19%</span><span class="z">，</span></span><span class="z">下载量同比</span> <span class="red n">4% <span class="ar dn">↓</span></span></div>
<div class="t tx r" style="right:949.6px;top:347.9px"><span class="z">收入占全球</span><span class="org"><span class="n">3%</span><span class="z">，</span></span><span class="z">收入同比</span> <span class="grn n">20% <span class="ar">↑</span></span></div>
<div class="t rn c" style="left:407px;width:200px;top:427px"><span class="z">非洲</span></div>
<div class="t tx c" style="left:407.4px;width:200px;top:454.4px"><span class="z">下载量同比</span> <span class="grn n">5% <span class="ar">↑</span></span></div>
<div class="t tx c" style="left:407.4px;width:200px;top:475.7px"><span class="z">收入同比</span> <span class="grn n">7% <span class="ar">↑</span></span></div>
<div class="t rn" style="left:959.6px;top:336.6px"><span class="z">东南亚</span></div>
<div class="t tx" style="left:960.3px;top:363.5px"><span class="z">下载量占全球</span><span class="pur k">15%</span><span class="z">，下载量同比</span> <span class="red n">4% <span class="ar dn">↓</span></span></div>
<div class="t tx" style="left:960.3px;top:385.8px"><span class="z">收入占全球</span><span class="org n">4%</span><span class="z">，收入同比</span> <span class="grn n">2% <span class="ar">↑</span></span></div>
</body></html>
